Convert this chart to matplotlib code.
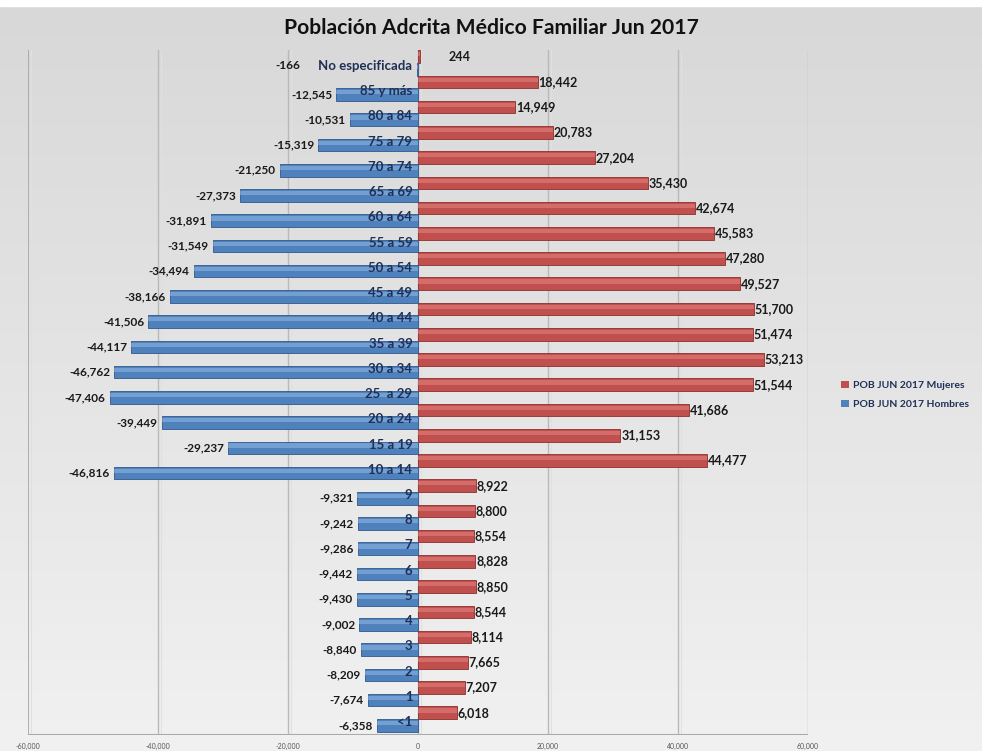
import numpy as np
import matplotlib
matplotlib.use("Agg")
import matplotlib.pyplot as plt
from matplotlib.patches import Patch
from matplotlib.colors import LinearSegmentedColormap

plt.rcParams['font.family'] = ['Lato', 'DejaVu Sans']

categorias = ['No especificada', '85 y más', '80 a 84', '75 a 79', '70 a 74', '65 a 69',
              '60 a 64', '55 a 59', '50 a 54', '45 a 49', '40 a 44', '35 a 39', '30 a 34',
              '25  a 29', '20 a 24', '15 a 19', '10 a 14', '9', '8', '7', '6', '5', '4',
              '3', '2', '1', '<1']
mujeres = [244, 18442, 14949, 20783, 27204, 35430, 42674, 45583, 47280, 49527, 51700,
           51474, 53213, 51544, 41686, 31153, 44477, 8922, 8800, 8554, 8828, 8850, 8544,
           8114, 7665, 7207, 6018]
hombres = [-166, -12545, -10531, -15319, -21250, -27373, -31891, -31549, -34494, -38166,
           -41506, -44117, -46762, -47406, -39449, -29237, -46816, -9321, -9242, -9286,
           -9442, -9430, -9002, -8840, -8209, -7674, -6358]
ticks = [-60000, -40000, -20000, 0, 20000, 40000, 60000]
titulo = 'Población Adcrita Médico Familiar Jun 2017'
serie_m = 'POB JUN 2017 Mujeres'
serie_h = 'POB JUN 2017 Hombres'

W, H = 982, 751
fig = plt.figure(figsize=(W / 100, H / 100), dpi=100)

# background gradient
bg = fig.add_axes([0, 0, 1, 1])
grad = np.linspace(0, 1, 256).reshape(-1, 1)
cmap = LinearSegmentedColormap.from_list('g', ['#d8d8d8', '#f1f1f1'])
bg.imshow(grad, aspect='auto', cmap=cmap, extent=[0, 1, 0, 1 - 6 / H], origin='upper')
bg.set_xlim(0, 1); bg.set_ylim(0, 1)
bg.axhspan(1 - 6 / H, 1, color='white')
bg.axis('off')
bg.set_zorder(-10)

px = lambda x: x / W
py = lambda y: 1 - y / H
left, right = 28, 808
top, bottom = 50, 735
ax = fig.add_axes([px(left), py(bottom), (right - left) / W, (bottom - top) / H])
ax.set_facecolor('none')

n = len(categorias)
y = np.arange(n)
ax.set_xlim(-60000, 60000)
ax.set_ylim(26.63, -0.515)

for t in ticks:
    col = '#a9a9a9' if t == -60000 else '#b9b9b9'
    ax.axvline(t, color=col, lw=1.3 if t == -60000 else 1.0, zorder=0)
    ax.axvline(t + 450, color='#e0e0e0', lw=0.8, zorder=0)
ax.axhline(26.63, color='#aaaaaa', lw=1.5, zorder=0)

h = 0.5
off = 0.25
red, red_hi, red_dk = '#C0504D', '#E58683', '#8E2E2B'
blue, blue_hi, blue_dk = '#4F81BD', '#93B8E4', '#30588A'

ax.barh(y - off, mujeres, height=h, color=red, edgecolor=red_dk, linewidth=0.6, zorder=2)
ax.barh(y - off - 0.09, mujeres, height=h * 0.33, color=red_hi, alpha=0.55, linewidth=0, zorder=3)
ax.barh(y + off, hombres, height=h, color=blue, edgecolor=blue_dk, linewidth=0.6, zorder=2)
ax.barh(y + off - 0.09, hombres, height=h * 0.33, color=blue_hi, alpha=0.55, linewidth=0, zorder=3)

txt = '#1a1a1a'
for i in range(n):
    dx_m = 21 if i == 0 else 0.5
    ax.annotate(f'{mujeres[i]:,}', (mujeres[i], y[i] - off), xytext=(dx_m, 0),
                textcoords='offset points', ha='left', va='center', fontsize=9,
                fontweight='bold', color=txt, zorder=5)
    dx_h = -84 if i == 0 else -3
    ax.annotate(f'{hombres[i]:,}', (hombres[i], y[i] + off - (0.15 if i == 0 else 0)),
                xytext=(dx_h, 0),
                textcoords='offset points', ha='right', va='center', fontsize=8.5,
                fontweight='bold', color=txt, zorder=5)
    ax.annotate(categorias[i], (0, y[i] + 0.12), xytext=(-4, 0),
                textcoords='offset points', ha='right', va='center', fontsize=9.5,
                fontweight='bold', color='#1F3056', zorder=6)

ax.set_xticks(ticks)
ax.set_xticklabels([f'{t:,}' for t in ticks], fontsize=5, color='#555555')
ax.tick_params(axis='x', length=0, pad=6)
ax.set_yticks([])
for s in ax.spines.values():
    s.set_visible(False)

fig.text(0.5, py(28), titulo, ha='center', va='center', fontsize=15.2,
         fontweight='bold', color='#111111')

handles = [Patch(facecolor=red, edgecolor='none'), Patch(facecolor=blue, edgecolor='none')]
fig.legend(handles, [serie_m, serie_h], loc='center left',
           bbox_to_anchor=(px(832), py(395)), frameon=False,
           prop={'size': 7.5, 'weight': 'bold'}, handlelength=0.7, handleheight=0.7,
           handletextpad=0.4, labelspacing=0.9, labelcolor='#1F3056')

fig.savefig('out.png', dpi=100)
